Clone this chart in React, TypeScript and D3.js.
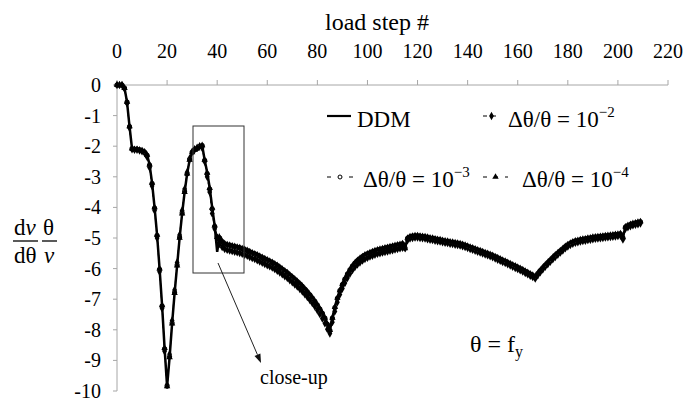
import React from 'react';
import * as d3 from 'd3';

const W = 685;
const H = 403;

const xTicks = [0, 20, 40, 60, 80, 100, 120, 140, 160, 180, 200, 220];
const yTicks = [0, -1, -2, -3, -4, -5, -6, -7, -8, -9, -10];

// DDM (solid)
const ddm = [
  0, 0, 0, -0.1, -0.55, -1.35, -2.08, -2.1, -2.1, -2.12,
  -2.14, -2.18, -2.28, -2.6, -3.2, -4.0, -4.9, -6.0, -7.2, -8.6,
  -9.85, -8.9, -7.8, -6.8, -5.9, -5.0, -4.2, -3.5, -2.9, -2.45,
  -2.2, -2.12, -2.08, -2.02, -1.97, -2.45, -2.85, -3.35, -4.0, -4.6,
  -5.45, -4.95, -5.1, -5.17, -5.2, -5.22, -5.24, -5.26, -5.28, -5.3,
  -5.33, -5.36, -5.39, -5.43, -5.47, -5.5, -5.54, -5.58, -5.62, -5.66,
  -5.7, -5.74, -5.78, -5.83, -5.88, -5.94, -6.0, -6.06, -6.12, -6.19,
  -6.26, -6.33, -6.4, -6.48, -6.56, -6.65, -6.74, -6.84, -6.94, -7.05,
  -7.17, -7.3, -7.44, -7.6, -7.8, -8.0, -7.6, -7.25, -6.95, -6.7,
  -6.5, -6.32, -6.16, -6.02, -5.9, -5.8, -5.72, -5.65, -5.59, -5.54,
  -5.5, -5.46, -5.43, -5.4, -5.37, -5.35, -5.33, -5.31, -5.29, -5.27,
  -5.25, -5.23, -5.21, -5.19, -5.17, -5.35, -5.0, -4.95, -4.93, -4.92,
  -4.92, -4.93, -4.94, -4.95, -4.97, -4.99, -5.0, -5.02, -5.04, -5.05,
  -5.07, -5.09, -5.1, -5.12, -5.13, -5.15, -5.16, -5.18, -5.2, -5.23,
  -5.26, -5.29, -5.32, -5.35, -5.38, -5.41, -5.44, -5.47, -5.5, -5.53,
  -5.56, -5.6, -5.64, -5.68, -5.72, -5.75, -5.79, -5.83, -5.87, -5.91,
  -5.95, -5.99, -6.03, -6.08, -6.12, -6.17, -6.21, -6.26, -6.15, -6.05,
  -5.96, -5.87, -5.79, -5.71, -5.63, -5.55, -5.48, -5.41, -5.34, -5.27,
  -5.21, -5.16, -5.12, -5.09, -5.07, -5.05, -5.03, -5.02, -5.0, -4.99,
  -4.97, -4.96, -4.95, -4.94, -4.93, -4.92, -4.91, -4.9, -4.89, -4.88,
  -4.87, -4.85, -4.98, -4.63, -4.58, -4.55, -4.52, -4.5, -4.48, -4.46,
];

// Δθ/θ = 10^-2 (diamonds)
const d2 = [
  0, 0, 0, -0.12, -0.6, -1.4, -2.1, -2.12, -2.12, -2.14,
  -2.17, -2.22, -2.35, -2.7, -3.3, -4.1, -5.0, -6.1, -7.3, -8.7,
  -9.8, -8.8, -7.7, -6.7, -5.8, -4.9, -4.1, -3.4, -2.85, -2.4,
  -2.18, -2.1, -2.05, -2.0, -2.05, -2.5, -3.0, -3.5, -4.2, -4.7,
  -5.0, -5.2, -5.3, -5.36, -5.39, -5.41, -5.43, -5.45, -5.47, -5.49,
  -5.52, -5.55, -5.58, -5.62, -5.66, -5.69, -5.73, -5.77, -5.81, -5.85,
  -5.89, -5.93, -5.97, -6.02, -6.07, -6.13, -6.19, -6.25, -6.31, -6.38,
  -6.45, -6.52, -6.59, -6.67, -6.75, -6.84, -6.93, -7.03, -7.13, -7.24,
  -7.36, -7.49, -7.63, -7.79, -7.98, -8.12, -7.75, -7.4, -7.1, -6.85,
  -6.65, -6.47, -6.31, -6.17, -6.05, -5.95, -5.87, -5.8, -5.74, -5.69,
  -5.65, -5.61, -5.58, -5.55, -5.52, -5.5, -5.48, -5.46, -5.44, -5.42,
  -5.4, -5.38, -5.36, -5.34, -5.32, -5.33, -5.08, -5.02, -5.0, -4.99,
  -4.99, -5.0, -5.01, -5.02, -5.04, -5.06, -5.07, -5.09, -5.11, -5.12,
  -5.14, -5.16, -5.17, -5.19, -5.2, -5.22, -5.23, -5.25, -5.27, -5.3,
  -5.33, -5.36, -5.39, -5.42, -5.45, -5.48, -5.51, -5.54, -5.57, -5.6,
  -5.63, -5.67, -5.71, -5.75, -5.79, -5.82, -5.86, -5.9, -5.94, -5.98,
  -6.02, -6.06, -6.1, -6.15, -6.19, -6.24, -6.28, -6.33, -6.22, -6.12,
  -6.03, -5.94, -5.86, -5.78, -5.7, -5.62, -5.55, -5.48, -5.41, -5.34,
  -5.28, -5.23, -5.19, -5.16, -5.14, -5.12, -5.1, -5.09, -5.07, -5.06,
  -5.04, -5.03, -5.02, -5.01, -5.0, -4.99, -4.98, -4.97, -4.96, -4.95,
  -4.94, -4.92, -5.05, -4.7, -4.65, -4.62, -4.59, -4.57, -4.55, -4.53,
];

// Δθ/θ = 10^-3 (circles)
const d3s = [
  0, 0, 0, -0.1, -0.56, -1.36, -2.08, -2.1, -2.1, -2.12,
  -2.15, -2.19, -2.3, -2.62, -3.22, -4.02, -4.92, -6.02, -7.22, -8.62,
  -9.84, -8.88, -7.78, -6.78, -5.88, -4.98, -4.18, -3.48, -2.9, -2.44,
  -2.2, -2.12, -2.07, -2.01, -1.98, -2.46, -2.9, -3.4, -4.05, -4.62,
  -4.96, -5.0, -5.12, -5.19, -5.22, -5.24, -5.26, -5.28, -5.3, -5.32,
  -5.35, -5.38, -5.41, -5.45, -5.49, -5.52, -5.56, -5.6, -5.64, -5.68,
  -5.72, -5.76, -5.8, -5.85, -5.9, -5.96, -6.02, -6.08, -6.14, -6.21,
  -6.28, -6.35, -6.42, -6.5, -6.58, -6.67, -6.76, -6.86, -6.96, -7.07,
  -7.19, -7.32, -7.46, -7.62, -7.82, -8.02, -7.62, -7.27, -6.97, -6.72,
  -6.52, -6.34, -6.18, -6.04, -5.92, -5.82, -5.74, -5.67, -5.61, -5.56,
  -5.52, -5.48, -5.45, -5.42, -5.39, -5.37, -5.35, -5.33, -5.31, -5.29,
  -5.27, -5.25, -5.23, -5.21, -5.19, -5.33, -5.01, -4.96, -4.94, -4.93,
  -4.93, -4.94, -4.95, -4.96, -4.98, -5.0, -5.01, -5.03, -5.05, -5.06,
  -5.08, -5.1, -5.11, -5.13, -5.14, -5.16, -5.17, -5.19, -5.21, -5.24,
  -5.27, -5.3, -5.33, -5.36, -5.39, -5.42, -5.45, -5.48, -5.51, -5.54,
  -5.57, -5.61, -5.65, -5.69, -5.73, -5.76, -5.8, -5.84, -5.88, -5.92,
  -5.96, -6.0, -6.04, -6.09, -6.13, -6.18, -6.22, -6.27, -6.16, -6.06,
  -5.97, -5.88, -5.8, -5.72, -5.64, -5.56, -5.49, -5.42, -5.35, -5.28,
  -5.22, -5.17, -5.13, -5.1, -5.08, -5.06, -5.04, -5.03, -5.01, -5.0,
  -4.98, -4.97, -4.96, -4.95, -4.94, -4.93, -4.92, -4.91, -4.9, -4.89,
  -4.88, -4.86, -4.99, -4.64, -4.59, -4.56, -4.53, -4.51, -4.49, -4.47,
];

// Δθ/θ = 10^-4 (triangles)
const d4 = [
  0, 0, 0, -0.1, -0.55, -1.35, -2.08, -2.1, -2.1, -2.12,
  -2.14, -2.18, -2.28, -2.6, -3.2, -4.0, -4.9, -6.0, -7.2, -8.6,
  -9.85, -8.9, -7.8, -6.8, -5.9, -5.0, -4.2, -3.5, -2.9, -2.45,
  -2.2, -2.12, -2.08, -2.02, -1.97, -2.45, -2.87, -3.37, -4.02, -4.6,
  -4.97, -5.0, -5.11, -5.18, -5.21, -5.23, -5.25, -5.27, -5.29, -5.31,
  -5.34, -5.37, -5.4, -5.44, -5.48, -5.51, -5.55, -5.59, -5.63, -5.67,
  -5.71, -5.75, -5.79, -5.84, -5.89, -5.95, -6.01, -6.07, -6.13, -6.2,
  -6.27, -6.34, -6.41, -6.49, -6.57, -6.66, -6.75, -6.85, -6.95, -7.06,
  -7.18, -7.31, -7.45, -7.61, -7.81, -8.01, -7.61, -7.26, -6.96, -6.71,
  -6.51, -6.33, -6.17, -6.03, -5.91, -5.81, -5.73, -5.66, -5.6, -5.55,
  -5.51, -5.47, -5.44, -5.41, -5.38, -5.36, -5.34, -5.32, -5.3, -5.28,
  -5.26, -5.24, -5.22, -5.2, -5.18, -5.34, -5.0, -4.95, -4.93, -4.92,
  -4.92, -4.93, -4.94, -4.95, -4.97, -4.99, -5.0, -5.02, -5.04, -5.05,
  -5.07, -5.09, -5.1, -5.12, -5.13, -5.15, -5.16, -5.18, -5.2, -5.23,
  -5.26, -5.29, -5.32, -5.35, -5.38, -5.41, -5.44, -5.47, -5.5, -5.53,
  -5.56, -5.6, -5.64, -5.68, -5.72, -5.75, -5.79, -5.83, -5.87, -5.91,
  -5.95, -5.99, -6.03, -6.08, -6.12, -6.17, -6.21, -6.26, -6.15, -6.05,
  -5.96, -5.87, -5.79, -5.71, -5.63, -5.55, -5.48, -5.41, -5.34, -5.27,
  -5.21, -5.16, -5.12, -5.09, -5.07, -5.05, -5.03, -5.02, -5.0, -4.99,
  -4.97, -4.96, -4.95, -4.94, -4.93, -4.92, -4.91, -4.9, -4.89, -4.88,
  -4.87, -4.85, -4.98, -4.63, -4.58, -4.55, -4.52, -4.5, -4.48, -4.46,
];

const FONT = '"Liberation Serif", "Times New Roman", Times, serif';

export default function App() {
  const x = d3.scaleLinear().domain([0, 220]).range([117, 668]);
  const y = d3.scaleLinear().domain([0, -10]).range([85, 391]);
  const line = d3
    .line<number>()
    .x((_, i) => x(i))
    .y((d) => y(d));

  const diamond = d3.symbol().type(d3.symbolDiamond).size(20)() as string;
  const tri = d3.symbol().type(d3.symbolTriangle).size(18)() as string;

  const axisColor = '#a6a6a6';

  // arrow geometry
  const ax0 = 218, ay0 = 263, ax1 = 261, ay1 = 363;
  const ang = Math.atan2(ay1 - ay0, ax1 - ax0);
  const al = 9, aw = 3.2;
  const bx = ax1 - al * Math.cos(ang), by = ay1 - al * Math.sin(ang);
  const arrowPts = [
    [ax1, ay1],
    [bx + aw * Math.sin(ang), by - aw * Math.cos(ang)],
    [bx - aw * Math.sin(ang), by + aw * Math.cos(ang)],
  ]
    .map((p) => p.join(','))
    .join(' ');

  return (
    <svg
      width={W}
      height={H}
      style={{ position: 'absolute', left: 0, top: 0, background: '#fff', fontFamily: FONT }}
    >
      <style>{`text, tspan { font-family: "Liberation Serif", "Times New Roman", Times, serif; }`}</style>
      <rect width={W} height={H} fill="#fff" />
      {/* top axis */}
      <line x1={x(0)} x2={x(220)} y1={y(0)} y2={y(0)} stroke={axisColor} strokeWidth={1} />
      {xTicks.map((t) => (
        <g key={'xt' + t}>
          <line x1={x(t)} x2={x(t)} y1={y(0)} y2={y(0) - 5} stroke={axisColor} strokeWidth={1} />
          <text x={x(t)} y={58} fontSize={20} textAnchor="middle" fill="#000">
            {t}
          </text>
        </g>
      ))}
      <text x={377} y={30} fontSize={24} textAnchor="middle" fill="#000">
        load step #
      </text>

      {/* left axis */}
      <line x1={x(0)} x2={x(0)} y1={y(0)} y2={y(-10)} stroke={axisColor} strokeWidth={1} />
      {yTicks.map((t) => (
        <g key={'yt' + t}>
          <line x1={x(0) - 4} x2={x(0)} y1={y(t)} y2={y(t)} stroke={axisColor} strokeWidth={1} />
          <text x={101} y={y(t) + 7} fontSize={20} textAnchor="end" fill="#000">
            {t}
          </text>
        </g>
      ))}

      {/* y label fraction */}
      <g fontSize={23} fill="#000">
        <text x={14} y={235}>
          d<tspan fontStyle="italic">v</tspan>
        </text>
        <text x={43} y={235}>θ</text>
        <line x1={13} x2={38} y1={241} y2={241} stroke="#000" strokeWidth={1.3} />
        <line x1={42} x2={57} y1={241} y2={241} stroke="#000" strokeWidth={1.3} />
        <text x={14} y={263}>dθ</text>
        <text x={44} y={263} fontStyle="italic">v</text>
      </g>

      {/* series 10^-2 */}
      <path d={line(d2) || ''} fill="none" stroke="#000" strokeWidth={1} strokeDasharray="3,3" />
      {d2.map((v, i) => (
        <path key={'m2' + i} d={diamond} transform={`translate(${x(i)},${y(v)})`} fill="#000" />
      ))}
      {/* series 10^-3 */}
      <path d={line(d3s) || ''} fill="none" stroke="#000" strokeWidth={1} strokeDasharray="3,3" />
      {d3s.map((v, i) => (
        <circle key={'m3' + i} cx={x(i)} cy={y(v)} r={2} fill="#fff" stroke="#000" strokeWidth={1.1} />
      ))}
      {/* series 10^-4 */}
      <path d={line(d4) || ''} fill="none" stroke="#000" strokeWidth={1} strokeDasharray="3,3" />
      {d4.map((v, i) => (
        <path key={'m4' + i} d={tri} transform={`translate(${x(i)},${y(v)})`} fill="#000" />
      ))}
      {/* DDM */}
      <path d={line(ddm) || ''} fill="none" stroke="#000" strokeWidth={2.5} />

      {/* close-up box & arrow */}
      <rect x={193} y={126} width={51} height={147} fill="none" stroke="#333" strokeWidth={1} />
      <line x1={ax0} y1={ay0} x2={bx} y2={by} stroke="#222" strokeWidth={1} />
      <polygon points={arrowPts} fill="#111" />
      <text x={260} y={384} fontSize={20} fill="#000">
        close-up
      </text>

      {/* theta = fy */}
      <text x={470} y={352} fontSize={24} fill="#000">
        θ = f<tspan fontSize={16} dy={5}>y</tspan>
      </text>

      {/* legend */}
      <g fill="#000">
        <line x1={327} x2={351} y1={116} y2={116} stroke="#000" strokeWidth={2.2} />
        <text x={357} y={127} fontSize={23}>DDM</text>

        <line x1={483} x2={500} y1={116} y2={116} stroke="#000" strokeWidth={1.2} strokeDasharray="4,5" />
        <path d={diamond} transform="translate(491.5,116)" fill="#000" />
        <text x={508} y={127} fontSize={23}>
          Δθ/θ = 10<tspan fontSize={15} dy={-10}>−2</tspan>
        </text>

        <line x1={327} x2={353} y1={177} y2={177} stroke="#000" strokeWidth={1.2} strokeDasharray="4,7" />
        <circle cx={340} cy={177} r={2} fill="#fff" stroke="#000" strokeWidth={1} />
        <text x={363} y={187} fontSize={23}>
          Δθ/θ = 10<tspan fontSize={15} dy={-10}>−3</tspan>
        </text>

        <line x1={483} x2={508} y1={177} y2={177} stroke="#000" strokeWidth={1.2} strokeDasharray="4,7" />
        <path d={tri} transform="translate(495.5,177)" fill="#000" />
        <text x={522} y={187} fontSize={23}>
          Δθ/θ = 10<tspan fontSize={15} dy={-10}>−4</tspan>
        </text>
      </g>
    </svg>
  );
}
